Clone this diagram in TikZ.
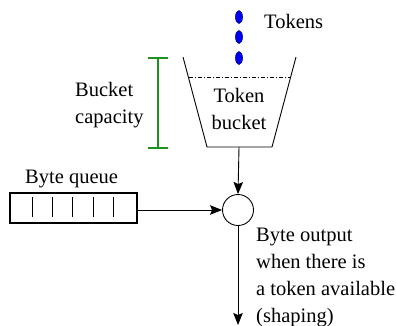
\documentclass[tikz,border=0pt]{standalone}
\usepackage{fontspec}
\setmainfont{Liberation Serif}
\usetikzlibrary{arrows.meta,shapes.geometric}
\definecolor{capgreen}{RGB}{30,145,30}
\definecolor{tokblue}{RGB}{0,0,240}
\begin{document}
\begin{tikzpicture}[x=1pt,y=-1pt,
  lbl/.style={inner sep=0pt, font=\fontsize{20.5}{27}\selectfont, align=left},
  tok/.style={ellipse, draw=tokblue!60!black, fill=tokblue, line width=0.6pt,
              minimum width=7pt, minimum height=13pt, inner sep=0pt},
  wall/.style={line width=0.9pt},
  flow/.style={line width=0.9pt, -{Stealth[length=12pt,width=9.5pt,inset=2pt]}},
  bar/.style={line width=1pt}]
\useasboundingbox (0,0) rectangle (396,325);

% falling tokens
\node[tok] (t1) at (239,17) {};
\node[tok] (t2) at (239,37) {};
\node[tok] (t3) at (239,58) {};
\node[lbl, anchor=base west] (tokens) at (264,28) {Tokens};

% bucket outline and fill level
\coordinate (bl) at (183,57);
\coordinate (br) at (296,57);
\coordinate (bbl) at (207,147);
\coordinate (bbr) at (272,147);
\coordinate (bbot) at (239,147);
\draw[wall] (bl) -- (bbl) -- (bbr) -- (br);
\draw[line width=0.7pt, dash pattern=on 4pt off 2pt on 1pt off 2pt] (189,77) -- (290,77);
% multi-line labels are placed by the baseline of their last line
\node[lbl, align=center, anchor=base] (bucket) at (239,129) {Token\\bucket};

% bucket capacity marker
\coordinate (captop) at (158,58);
\coordinate (capbot) at (158,148);
\draw[capgreen, line width=2pt] (captop) -- (capbot);
\draw[capgreen, line width=2pt] ([xshift=-10pt]captop) -- ([xshift=10pt]captop);
\draw[capgreen, line width=2pt] ([xshift=-10pt]capbot) -- ([xshift=10pt]capbot);
\node[lbl, anchor=base west] (cap) at (75,123) {Bucket\\capacity};

% byte queue
\node[draw, line width=1.8pt, minimum width=127pt, minimum height=30pt, inner sep=0pt]
  (queue) at (73.5,208) {};
\foreach \x in {32,52,72,93,113}
  \draw[bar] (\x,197) -- (\x,217);
\node[lbl, anchor=base west] (qlabel) at (25,183) {Byte queue};

% gate
\node[draw, circle, line width=0.9pt, minimum size=31pt, inner sep=0pt] (mix) at (238,210) {};
\coordinate (outend) at (238,325);

\draw[flow] (bbot) -- (mix.north);
\draw[flow] (queue.east |- mix.west) -- (mix.west);
\draw[flow] (mix.south) -- (outend);

\node[lbl, anchor=base west] (out) at (256,322)
  {Byte output\\when there is\\a token available\\(shaping)};
\end{tikzpicture}
\end{document}
